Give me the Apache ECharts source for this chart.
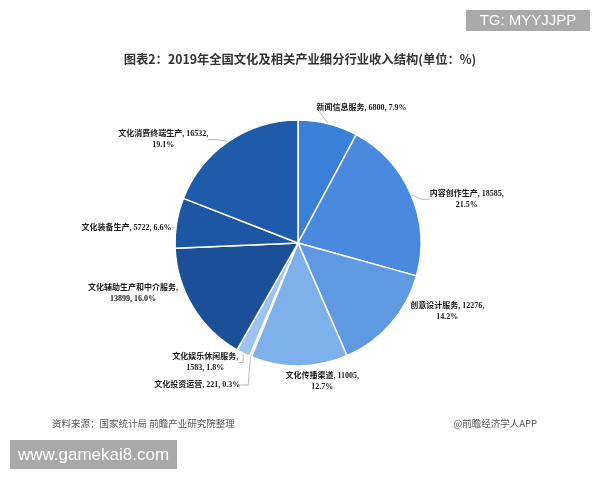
<!DOCTYPE html>
<html><head><meta charset="utf-8">
<script src="https://cdn.jsdelivr.net/npm/echarts@6/dist/echarts.min.js"></script>
<style>html,body{margin:0;padding:0;background:#fff}#c{width:600px;height:480px}</style>
</head><body><div id="c"></div>
<script>
const categories = ['新闻信息服务','内容创作生产','创意设计服务','文化传播渠道','文化投资运营','文化娱乐休闲服务','文化辅助生产和中介服务','文化装备生产','文化消费终端生产'];
const values = [6800, 18585, 12276, 11005, 221, 1583, 13899, 5722, 16532];
const percents = ['7.9', '21.5', '14.2', '12.7', '0.3', '1.8', '16.0', '6.6', '19.1'];

// styling (not data)
const colors = ['#3a7fd8','#4a8ade','#5f99e2','#7eb0ec','#a9cbf3','#9fc3f0','#1b4f98','#1d56a4','#1f5bab'];
const breaks = [0,1,1,1,0,2,2,0,1];
const labelShift = [[-26,-10],[0,7],[2,-16],[-27,9],[5,8],[29,4],[3,-17],[9,6],[-4,3]];
const showLine = [true,true,false,false,true,true,false,true,true];

const chart = echarts.init(document.getElementById('c'));
chart.setOption({
  backgroundColor: '#fff',
  animation: false,
  title: {
    text: '图表2：2019年全国文化及相关产业细分行业收入结构(单位：%)',
    left: 'center', top: 48,
    textStyle: {fontFamily: "'Noto Sans CJK SC'", fontSize: 12.3, fontWeight: 'bold', color: '#333'}
  },
  graphic: [
    {type:'text', left: 52, top: 419, style:{text:'资料来源：国家统计局 前瞻产业研究院整理', fontSize: 9.5, fill:'#555', fontFamily:"'Noto Sans CJK SC'"}},
    {type:'text', right: 63, top: 419, style:{text:'@前瞻经济学人APP', fontSize: 9.5, fill:'#555', fontFamily:"'Noto Sans CJK SC'"}},
    {type:'group', left: 466, top: 10, children:[
      {type:'rect', shape:{x:0,y:0,width:124,height:21}, style:{fill:'#a9a9a9'}},
      {type:'text', x: 62, y: 11, style:{text:'TG: MYYJJPP', fill:'#fff', fontSize: 15, fontFamily:'Liberation Sans', align:'center', verticalAlign:'middle'}}
    ]},
    {type:'group', left: 10, top: 440, children:[
      {type:'rect', shape:{x:0,y:0,width:167,height:29}, style:{fill:'#a9a9a9'}},
      {type:'text', x: 83.5, y: 15, style:{text:'www.gamekai8.com', fill:'#fff', fontSize: 17, fontFamily:'Liberation Sans', align:'center', verticalAlign:'middle'}}
    ]}
  ],
  series: [{
    type: 'pie',
    center: [298, 243],
    radius: 123,
    startAngle: 90,
    clockwise: true,
    avoidLabelOverlap: true,
    itemStyle: {borderColor: '#fff', borderWidth: 1.5},
    label: {
      color: '#1a1a1a',
      fontFamily: "'Liberation Serif', 'Noto Sans CJK SC'",
      fontWeight: 'bold',
      fontSize: 8,
      lineHeight: 11,
      formatter: function (p) {
        const i = p.dataIndex, n = categories[i], v = values[i], pc = percents[i] + '%';
        if (breaks[i] === 1) return '{c|' + n + ', ' + v + ',}\n{c|' + pc + '}';
        if (breaks[i] === 2) return '{c|' + n + ',}\n{c|' + v + ', ' + pc + '}';
        return n + ', ' + v + ', ' + pc;
      },
      rich: {c: {align: 'center', fontSize: 8, fontWeight: 'bold', color: '#1a1a1a', lineHeight: 11, fontFamily: "'Liberation Serif', 'Noto Sans CJK SC'"}}
    },
    labelLine: {length: 6, length2: 8, lineStyle: {color: '#aaa', width: 0.8}},
    labelLayout: function (p) {
      const s = labelShift[p.dataIndex];
      const r = p.labelRect;
      return {x: r.x + s[0], y: r.y + s[1], align: 'left', verticalAlign: 'top'};
    },
    data: categories.map((n, i) => ({name: n, value: values[i], itemStyle: {color: colors[i]}, labelLine: {show: showLine[i]}}))
  }]
});
</script>
</body></html>
